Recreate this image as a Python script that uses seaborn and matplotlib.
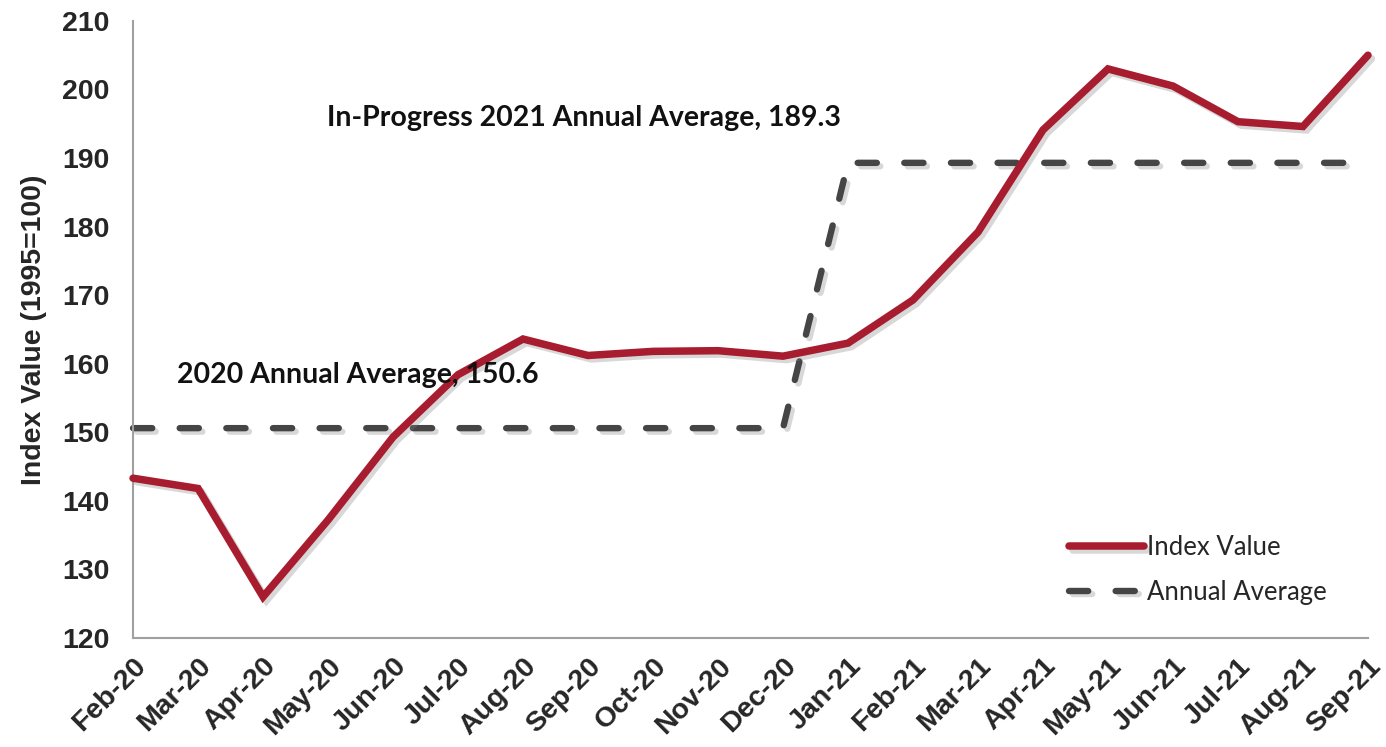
import matplotlib
matplotlib.use("Agg")
import matplotlib.pyplot as plt
import matplotlib.patheffects as pe
import seaborn as sns
import pandas as pd

months = ["Feb-20", "Mar-20", "Apr-20", "May-20", "Jun-20", "Jul-20", "Aug-20",
          "Sep-20", "Oct-20", "Nov-20", "Dec-20", "Jan-21", "Feb-21", "Mar-21",
          "Apr-21", "May-21", "Jun-21", "Jul-21", "Aug-21", "Sep-21"]
index_value = [143.3, 141.8, 126.0, 137.2, 149.3, 158.4, 163.6, 161.2, 161.8, 161.9,
               161.1, 163.0, 169.3, 179.2, 194.1, 203.0, 200.5, 195.3, 194.6, 205.0]
annual_average = [150.6] * 11 + [189.3] * 9
label_2020 = "2020 Annual Average, 150.6"
label_2021 = "In-Progress 2021 Annual Average, 189.3"
yticks = [120, 130, 140, 150, 160, 170, 180, 190, 200, 210]

df = pd.DataFrame({"pos": range(len(months)), "Month": months,
                   "Index Value": index_value, "Annual Average": annual_average})

sns.set_theme(style="white")
plt.rcParams["font.family"] = ["Liberation Sans", "DejaVu Sans"]

fig = plt.figure(figsize=(13.86, 7.47), dpi=100)
ax = fig.add_axes([0.096, 0.146, 0.891, 0.826])

red = "#A81C2F"
dark = "#454545"
shadow = [pe.SimpleLineShadow(offset=(2.5, -2.5), shadow_color="#808080", alpha=0.3),
          pe.Normal()]

sns.lineplot(data=df, x="pos", y="Index Value", ax=ax, color=red, lw=5.4,
             label="Index Value", solid_capstyle="round", solid_joinstyle="miter",
             path_effects=shadow, clip_on=False, zorder=3)
sns.lineplot(data=df, x="pos", y="Annual Average", ax=ax, color=dark, lw=4.6,
             label="Annual Average", linestyle=(0, (3.0, 4.3)), dash_capstyle="round",
             path_effects=shadow, clip_on=False, zorder=2)

ax.set_xlim(0, len(months) - 1)
ax.set_ylim(120, 210)
ax.set_yticks(yticks)
ax.set_yticklabels([str(v) for v in yticks], fontsize=20.5, fontweight="bold")
ax.set_xticks(range(len(months)))
ax.set_xticklabels(months, rotation=45, ha="right", rotation_mode="anchor",
                   fontsize=20.5, fontweight="bold")
ax.tick_params(axis="y", length=0, pad=17)
ax.tick_params(axis="x", length=0, pad=11)
ax.set_xlabel("")
ax.set_ylabel("Index Value (1995=100)", fontsize=20.5, fontweight="bold", labelpad=11)

for s in ["top", "right"]:
    ax.spines[s].set_visible(False)
for s in ["left", "bottom"]:
    ax.spines[s].set_color("#a0a0a0")
    ax.spines[s].set_linewidth(1.5)

ann_font = ["Lato", "DejaVu Sans"]
ax.text(0.68, 158.4, label_2020, fontsize=20.5, fontweight="bold",
        family=ann_font, color="#111111", va="center", ha="left")
ax.text(2.99, 195.9, label_2021, fontsize=20.5, fontweight="bold",
        family=ann_font, color="#111111", va="center", ha="left")

leg = ax.legend(loc="center left", bbox_to_anchor=(0.758, 0.110), frameon=False,
                prop={"family": ann_font, "size": 18.5}, borderpad=0, borderaxespad=0,
                handlelength=2.9, handletextpad=0.15, labelspacing=0.75)

fig.savefig("out.png", dpi=100)
